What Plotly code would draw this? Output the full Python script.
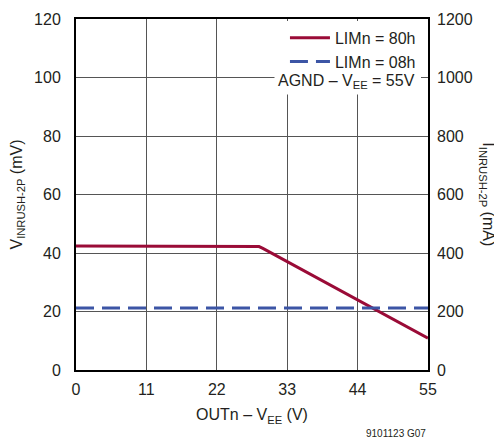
import plotly.graph_objects as go

# Data
x_80h = [0, 28, 28.6, 29.2, 55]
y_80h = [42.4, 42.4, 42.2, 41.6, 10.9]          # mV
x_08h = [0, 55]
y_08h = [21.2, 21.2]                             # mV

x_ticks = [0, 11, 22, 33, 44, 55]
y_left_ticks = [0, 20, 40, 60, 80, 100, 120]
y_right_ticks = [0, 200, 400, 600, 800, 1000, 1200]

FONT = "Liberation Sans Narrow, Arial Narrow, Liberation Sans, Arial, sans-serif"
RED = "#9a0b37"
BLUE = "#3c55a5"
TXT = "#231f20"
FS = 16

fig = go.Figure()
fig.add_trace(go.Scatter(x=x_80h, y=y_80h, mode="lines", name="LIMn = 80h",
                         line=dict(color=RED, width=3)))
fig.add_trace(go.Scatter(x=x_08h, y=y_08h, mode="lines", name="LIMn = 08h",
                         line=dict(color=BLUE, width=3, dash="18px,8px")))
# right axis in mA (0.1 ohm sense): invisible companion trace to anchor the axis
fig.add_trace(go.Scatter(x=x_08h, y=[v * 10 for v in y_08h], yaxis="y2", mode="lines",
                         line=dict(color="rgba(0,0,0,0)"), showlegend=False, hoverinfo="skip"))

axis_common = dict(showline=True, linecolor="black", linewidth=2, mirror=True,
                   gridcolor="#555555", gridwidth=1, zeroline=False, ticks="",
                   automargin=False,
                   tickfont=dict(family=FONT, size=FS, color=TXT))

# page body has an 8px margin, so the figure is sized/offset to compensate
fig.update_layout(
    width=494, height=430,
    margin=dict(l=68, r=74, t=11, b=68, autoexpand=False),
    paper_bgcolor="white", plot_bgcolor="white",
    font=dict(family=FONT, color=TXT),
    showlegend=True,
    legend=dict(x=0.98, y=0.995, xanchor="right", yanchor="top",
                bgcolor="white", borderwidth=0,
                font=dict(family=FONT, size=FS, color=TXT),
                tracegroupgap=0, itemwidth=40),
    xaxis=dict(range=[0, 55], tickvals=x_ticks, ticktext=[str(v) for v in x_ticks],
               ticklabelstandoff=4,
               title=dict(text="OUTn – V<sub>EE</sub> (V)", font=dict(family=FONT, size=FS, color=TXT),
                          standoff=12),
               **axis_common),
    yaxis=dict(range=[0, 120], tickvals=y_left_ticks, ticktext=[str(v) for v in y_left_ticks],
               ticklabelstandoff=10,
               title=dict(text="V<sub>INRUSH-2P</sub> (mV)", font=dict(family=FONT, size=FS, color=TXT),
                          standoff=14),
               **axis_common),
    yaxis2=dict(range=[0, 1200], tickvals=y_right_ticks, ticktext=[str(v) for v in y_right_ticks],
                overlaying="y", side="right", anchor="x", showgrid=False, automargin=False,
                showline=False, ticks="", zeroline=False, ticklabelstandoff=8,
                tickfont=dict(family=FONT, size=FS, color=TXT)),
    annotations=[
        dict(text="AGND – V<sub>EE</sub> = 55V", xref="paper", yref="paper",
             x=0.975, y=0.823, xanchor="right", yanchor="middle", showarrow=False,
             bgcolor="white", borderpad=3, font=dict(family=FONT, size=FS, color=TXT)),
        dict(text="I<sub>INRUSH-2P</sub> (mA)", xref="paper", yref="paper",
             x=1.168, y=0.5, xanchor="center", yanchor="middle", showarrow=False,
             textangle=90, font=dict(family=FONT, size=FS, color=TXT)),
        dict(text="9101123 G07", xref="paper", yref="paper",
             x=1.0, y=-0.18, xanchor="right", yanchor="middle", showarrow=False,
             font=dict(family=FONT, size=10, color=TXT)),
    ],
)

fig.write_html("out.html")
